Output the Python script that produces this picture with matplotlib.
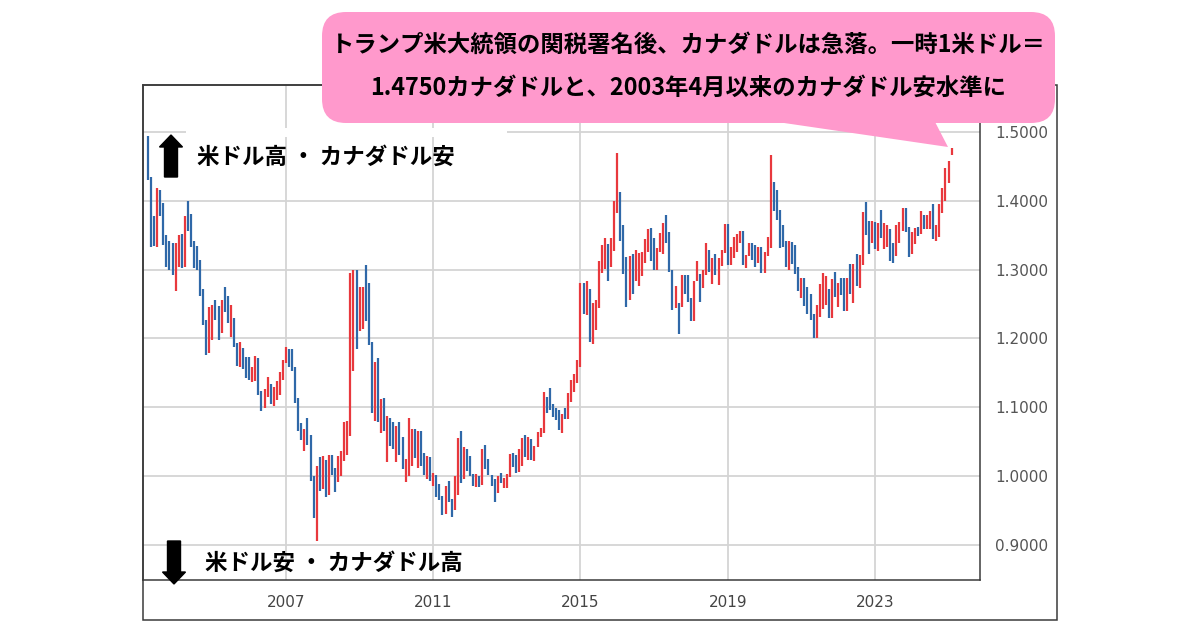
"""
USD/CAD monthly bars (Apr 2003 - Feb 2025) with the pink callout,
saved as out.png (1200x630).
"""

import matplotlib
matplotlib.use("Agg")
import matplotlib.pyplot as plt
import matplotlib.patches as mpatches
from matplotlib.transforms import IdentityTransform
import pandas as pd

# --- Data: monthly open / high / low / close, Apr 2003 .. Feb 2025 ----------
months = pd.period_range("2003-04", "2025-02", freq="M")

opens = [
    1.4690, 1.4350, 1.3700, 1.3540, 1.4060, 1.3860, 1.3500, 1.3190, 1.3010,
    1.2960, 1.3250, 1.3330, 1.3100, 1.3720, 1.3650, 1.3360, 1.3280, 1.3140, 1.2650, 1.2230, 1.1890,
    1.2020, 1.2390, 1.2320, 1.2100, 1.2560, 1.2550, 1.2260, 1.2270, 1.1890, 1.1610, 1.1800, 1.1680,
    1.1630, 1.1410, 1.1470, 1.1670, 1.1180, 1.1010, 1.1150, 1.1300, 1.1060, 1.1170, 1.1220, 1.1450,
    1.1650, 1.1760, 1.1670, 1.1540, 1.1090, 1.0700, 1.0650, 1.0670, 1.0560, 0.9950, 0.9480, 1.0010,
    0.9880, 1.0000, 0.9810, 1.0270, 1.0070, 0.9940, 1.0200, 1.0250, 1.0640, 1.0650, 1.2040, 1.2370,
    1.2200, 1.2300, 1.2700, 1.2600, 1.1920, 1.0920, 1.1630, 1.0780, 1.0960, 1.0710, 1.0820, 1.0570,
    1.0510, 1.0680, 1.0520, 1.0150, 1.0160, 1.0450, 1.0650, 1.0280, 1.0650, 1.0290, 1.0210, 1.0260,
    0.9980, 1.0000, 0.9720, 0.9710, 0.9460, 0.9690, 0.9650, 0.9540, 0.9790, 1.0480, 0.9960, 1.0210,
    1.0190, 1.0030, 0.9880, 0.9970, 0.9880, 1.0360, 1.0180, 1.0020, 0.9860, 0.9830, 0.9990, 0.9940,
    0.9950, 0.9990, 1.0300, 1.0160, 1.0070, 1.0360, 1.0520, 1.0270, 1.0530, 1.0300, 1.0430, 1.0620,
    1.0640, 1.1130, 1.1070, 1.1050, 1.0960, 1.0840, 1.0670, 1.0900, 1.0880, 1.1200, 1.1270, 1.1440,
    1.1600, 1.2700, 1.2510, 1.2670, 1.2050, 1.2450, 1.2490, 1.3070, 1.3170, 1.3350, 1.3080, 1.3360,
    1.3840, 1.4010, 1.3530, 1.2990, 1.2550, 1.3100, 1.2920, 1.3060, 1.3110, 1.3120, 1.3410, 1.3440,
    1.3430, 1.3020, 1.3280, 1.3300, 1.3660, 1.3500, 1.2970, 1.2460, 1.2510, 1.2480, 1.2900, 1.2890,
    1.2570, 1.2310, 1.2830, 1.2890, 1.2840, 1.2960, 1.3150, 1.3010, 1.3050, 1.2920, 1.3150, 1.3280,
    1.3640, 1.3130, 1.3160, 1.3350, 1.3430, 1.3510, 1.3090, 1.3200, 1.3300, 1.3240, 1.3170, 1.3280,
    1.2980, 1.3240, 1.3420, 1.4070, 1.3930, 1.3780, 1.3630, 1.3400, 1.3050, 1.3320, 1.3310, 1.2990,
    1.2730, 1.2780, 1.2740, 1.2570, 1.2290, 1.2070, 1.2400, 1.2480, 1.2620, 1.2680, 1.2380, 1.2770,
    1.2640, 1.2720, 1.2670, 1.2500, 1.2850, 1.2650, 1.2870, 1.2810, 1.3130, 1.3740, 1.3620, 1.3530,
    1.3550, 1.3310, 1.3640, 1.3520, 1.3550, 1.3570, 1.3240, 1.3190, 1.3520, 1.3580, 1.3870, 1.3560,
    1.3250, 1.3420, 1.3580, 1.3540, 1.3780, 1.3630, 1.3680, 1.3810, 1.3480, 1.3520, 1.3930, 1.4010,
    1.4380, 1.4670,
]
highs = [
    1.4940, 1.4350, 1.3780, 1.4190, 1.4160, 1.3970, 1.3500, 1.3420, 1.3390,
    1.3390, 1.3500, 1.3520, 1.3780, 1.3990, 1.3800, 1.3420, 1.3340, 1.3140, 1.2720, 1.2270, 1.2450,
    1.2480, 1.2560, 1.2470, 1.2560, 1.2740, 1.2620, 1.2480, 1.2300, 1.1930, 1.1950, 1.1860, 1.1730,
    1.1730, 1.1580, 1.1740, 1.1720, 1.1230, 1.1270, 1.1440, 1.1340, 1.1300, 1.1380, 1.1510, 1.1690,
    1.1880, 1.1850, 1.1850, 1.1580, 1.1130, 1.0770, 1.0680, 1.0850, 1.0590, 1.0000, 1.0150, 1.0270,
    1.0290, 1.0240, 1.0310, 1.0300, 1.0120, 1.0290, 1.0370, 1.0780, 1.0800, 1.2950, 1.2990, 1.2990,
    1.2750, 1.2750, 1.3060, 1.2810, 1.1950, 1.1660, 1.1710, 1.1120, 1.1140, 1.0870, 1.0840, 1.0780,
    1.0730, 1.0780, 1.0560, 1.0250, 1.0850, 1.0680, 1.0680, 1.0660, 1.0650, 1.0340, 1.0290, 1.0280,
    1.0050, 1.0010, 0.9890, 0.9710, 0.9850, 0.9930, 0.9670, 1.0000, 1.0550, 1.0660, 1.0420, 1.0390,
    1.0290, 1.0030, 1.0030, 1.0000, 1.0390, 1.0450, 1.0250, 1.0020, 0.9950, 1.0000, 1.0040, 0.9970,
    1.0030, 1.0320, 1.0330, 1.0300, 1.0390, 1.0550, 1.0600, 1.0560, 1.0540, 1.0440, 1.0640, 1.0700,
    1.1220, 1.1150, 1.1280, 1.1050, 1.0990, 1.0960, 1.0900, 1.0990, 1.1210, 1.1390, 1.1480, 1.1680,
    1.2800, 1.2800, 1.2840, 1.2720, 1.2510, 1.2560, 1.3120, 1.3350, 1.3460, 1.3370, 1.3460, 1.4000,
    1.4690, 1.4120, 1.3650, 1.3180, 1.3190, 1.3220, 1.3290, 1.3240, 1.3250, 1.3440, 1.3590, 1.3600,
    1.3460, 1.3310, 1.3530, 1.3680, 1.3790, 1.3540, 1.2990, 1.2760, 1.2520, 1.2920, 1.2920, 1.2920,
    1.2590, 1.2840, 1.3120, 1.2930, 1.3000, 1.3380, 1.3290, 1.3170, 1.3230, 1.3170, 1.3290, 1.3660,
    1.3660, 1.3330, 1.3470, 1.3520, 1.3560, 1.3560, 1.3210, 1.3380, 1.3380, 1.3350, 1.3320, 1.3320,
    1.3250, 1.3470, 1.4670, 1.4270, 1.4150, 1.3870, 1.3650, 1.3420, 1.3420, 1.3400, 1.3360, 1.3030,
    1.2880, 1.2870, 1.2740, 1.2650, 1.2350, 1.2490, 1.2790, 1.2950, 1.2900, 1.2710, 1.2860, 1.2960,
    1.2800, 1.2880, 1.2870, 1.2880, 1.3080, 1.3080, 1.3220, 1.3210, 1.3840, 1.3980, 1.3710, 1.3700,
    1.3690, 1.3670, 1.3860, 1.3670, 1.3650, 1.3590, 1.3380, 1.3640, 1.3690, 1.3900, 1.3890, 1.3620,
    1.3540, 1.3600, 1.3620, 1.3850, 1.3790, 1.3790, 1.3850, 1.3950, 1.3650, 1.3950, 1.4180, 1.4470,
    1.4580, 1.4765,
]
lows = [
    1.4300, 1.3320, 1.3340, 1.3320, 1.3780, 1.3360, 1.3030, 1.3000, 1.2920,
    1.2690, 1.3040, 1.3020, 1.3030, 1.3560, 1.3320, 1.3020, 1.2990, 1.2620, 1.2190, 1.1760, 1.1780,
    1.1970, 1.2260, 1.1980, 1.2080, 1.2380, 1.2220, 1.2020, 1.1880, 1.1600, 1.1590, 1.1560, 1.1430,
    1.1390, 1.1360, 1.1380, 1.1180, 1.0940, 1.0990, 1.1150, 1.1040, 1.1020, 1.1110, 1.1170, 1.1400,
    1.1640, 1.1580, 1.1530, 1.1060, 1.0660, 1.0520, 1.0370, 1.0450, 0.9930, 0.9390, 0.9060, 0.9790,
    0.9810, 0.9700, 0.9720, 1.0020, 0.9770, 0.9920, 1.0000, 1.0220, 1.0300, 1.0580, 1.1530, 1.1840,
    1.2100, 1.2130, 1.2250, 1.1910, 1.0910, 1.0800, 1.0780, 1.0630, 1.0650, 1.0200, 1.0430, 1.0390,
    1.0200, 1.0300, 1.0100, 0.9920, 1.0000, 1.0140, 1.0260, 1.0110, 1.0150, 1.0010, 0.9950, 0.9930,
    0.9850, 0.9690, 0.9650, 0.9440, 0.9450, 0.9630, 0.9410, 0.9510, 0.9730, 0.9900, 0.9960, 1.0070,
    1.0000, 0.9850, 0.9840, 0.9840, 0.9870, 1.0100, 1.0020, 0.9860, 0.9630, 0.9760, 0.9900, 0.9820,
    0.9820, 0.9980, 1.0130, 1.0050, 1.0060, 1.0150, 1.0270, 1.0230, 1.0230, 1.0220, 1.0420, 1.0570,
    1.0620, 1.0920, 1.0960, 1.0860, 1.0810, 1.0670, 1.0620, 1.0830, 1.0830, 1.1080, 1.1220, 1.1350,
    1.1580, 1.2350, 1.2340, 1.1950, 1.1920, 1.2120, 1.2440, 1.2950, 1.3010, 1.2830, 1.3030, 1.3270,
    1.3820, 1.3420, 1.2930, 1.2460, 1.2550, 1.2650, 1.2840, 1.2760, 1.2900, 1.3100, 1.3260, 1.3120,
    1.3000, 1.3000, 1.3250, 1.3220, 1.3390, 1.2960, 1.2410, 1.2440, 1.2060, 1.2450, 1.2640, 1.2530,
    1.2250, 1.2250, 1.2830, 1.2530, 1.2730, 1.2920, 1.2960, 1.2790, 1.2920, 1.2780, 1.3050, 1.3240,
    1.3060, 1.3060, 1.3160, 1.3250, 1.3380, 1.3060, 1.3020, 1.3200, 1.3140, 1.3040, 1.3100, 1.2950,
    1.2950, 1.3190, 1.3310, 1.3850, 1.3720, 1.3310, 1.3330, 1.3040, 1.2990, 1.3080, 1.2930, 1.2690,
    1.2590, 1.2470, 1.2360, 1.2270, 1.2010, 1.2010, 1.2310, 1.2430, 1.2490, 1.2290, 1.2290, 1.2600,
    1.2450, 1.2630, 1.2400, 1.2400, 1.2640, 1.2520, 1.2760, 1.2730, 1.3070, 1.3500, 1.3230, 1.3390,
    1.3300, 1.3270, 1.3460, 1.3300, 1.3320, 1.3120, 1.3090, 1.3190, 1.3380, 1.3560, 1.3540, 1.3180,
    1.3230, 1.3370, 1.3480, 1.3520, 1.3590, 1.3590, 1.3590, 1.3440, 1.3420, 1.3470, 1.3820, 1.4000,
    1.4260, 1.4665,
]
closes = opens[1:-1] + [1.4530, 1.4750]

price_ticks = [0.9, 1.0, 1.1, 1.2, 1.3, 1.4, 1.5]
year_ticks = [2007, 2011, 2015, 2019, 2023]

callout_lines = [
    "トランプ米大統領の関税署名後、カナダドルは急落。一時1米ドル＝",
    "1.4750カナダドルと、2003年4月以来のカナダドル安水準に",
]
label_up = "米ドル高 ・ カナダドル安"
label_down = "米ドル安 ・ カナダドル高"

# --- Style -----------------------------------------------------------------
RED = "#e8383d"
BLUE = "#2f68a8"
GRID = "#d4d4d4"
FRAME = "#3a3a3a"
PINK = "#ff99cc"
JP = ["Noto Sans CJK JP", "DejaVu Sans"]

W, H = 1200, 630
fig = plt.figure(figsize=(W / 100, H / 100), dpi=100)
fig.patch.set_facecolor("white")

# plot area: x 143..980, y 85..580 (pixels from top-left)
ax = fig.add_axes([143 / W, 1 - 580 / H, (980 - 143) / W, (580 - 85) / H])

x = months.year + (months.month - 1) / 12
colors = [RED if c >= o else BLUE for o, c in zip(opens, closes)]
ax.vlines(x, lows, highs, colors=colors, linewidth=1.6, zorder=3)

ax.set_xlim(2003.115, 2025.854)
ax.set_ylim(0.849, 1.568)

ax.set_xticks(year_ticks)
ax.set_xticklabels([str(y) for y in year_ticks])
ax.set_yticks(price_ticks)
ax.set_yticklabels([f"{p:.4f}" for p in price_ticks])
ax.yaxis.tick_right()
ax.tick_params(axis="x", length=0, pad=11, labelsize=11, labelcolor="#444444")
ax.tick_params(axis="y", length=0, pad=11, labelsize=11, labelcolor="#555555")
ax.grid(True, color=GRID, linewidth=1.3, zorder=0)
ax.set_axisbelow(True)
for sp in ax.spines.values():
    sp.set_color(FRAME)
    sp.set_linewidth(1.1)

# outer frame around plot + axis label strips
fig.add_artist(mpatches.Rectangle((143 / W, 1 - 620 / H), (1057 - 143) / W,
                                  (620 - 85) / H, transform=fig.transFigure,
                                  fill=False, edgecolor=FRAME, linewidth=1.1,
                                  zorder=1))

px = IdentityTransform()   # display pixels, origin bottom-left

# white strip masking the top gridline behind the upper label
fig.add_artist(mpatches.Rectangle((186, H - 137), 507 - 186, 9,
                                  facecolor="white", edgecolor="none",
                                  transform=px, zorder=2))

# direction arrows
fig.add_artist(mpatches.FancyArrow(171, H - 177, 0, 42, width=13, head_width=23,
                                   head_length=12, length_includes_head=True,
                                   color="black", transform=px, zorder=4))
fig.add_artist(mpatches.FancyArrow(174, H - 541, 0, -43, width=13, head_width=23,
                                   head_length=12, length_includes_head=True,
                                   color="black", transform=px, zorder=4))

fig.text(197 / W, 1 - 157 / H, label_up, ha="left", va="center", fontsize=16.2,
         fontweight="bold", family=JP, color="black", zorder=5)
fig.text(205 / W, 1 - 563 / H, label_down, ha="left", va="center", fontsize=16.2,
         fontweight="bold", family=JP, color="black", zorder=5)

# pink callout with tail pointing at the last bar
tail = mpatches.Polygon([(750, H - 118), (933, H - 118), (948, H - 147)],
                        closed=True, facecolor=PINK, edgecolor="none",
                        transform=px, zorder=6)
fig.add_artist(tail)
bubble = mpatches.FancyBboxPatch((322, H - 123), 1055 - 322, 123 - 12,
                                 boxstyle="round,pad=0,rounding_size=24",
                                 facecolor=PINK, edgecolor="none",
                                 transform=px, zorder=6)
fig.add_artist(bubble)
for line, yy in zip(callout_lines, [45, 88]):
    fig.text(688 / W, 1 - yy / H, line, ha="center", va="center",
             fontsize=16.8, fontweight="bold", family=JP, color="black",
             zorder=7)

fig.savefig("out.png", dpi=100)
plt.close(fig)
